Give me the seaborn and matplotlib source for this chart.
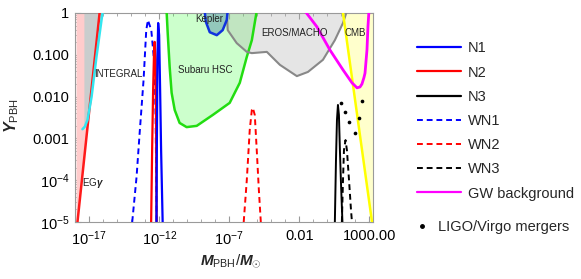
import numpy as np
import matplotlib
matplotlib.use("Agg")
import matplotlib.pyplot as plt
import seaborn as sns
from matplotlib.lines import Line2D
from matplotlib.ticker import FixedLocator, FixedFormatter, LogLocator, NullFormatter

# all values are log10(M/Msun) and log10(Y)
egam_m = [-17.84, -16.23]
egam_y = [-5.05, 0.05]
egam_fill_left = -17.89

integral_m = [-17.47, -17.30, -17.11, -16.82, -16.47, -16.02]
integral_y = [-2.78, -2.72, -2.56, -2.01, -1.05, 0.05]
integral_left = -17.33

subaru_m = [-11.47, -11.39, -11.25, -11.11, -10.89, -10.54, -10.04, -9.32, -8.18,
            -6.97, -6.25, -5.75, -5.39, -5.04]
subaru_y = [0.05, -0.48, -1.29, -1.91, -2.32, -2.63, -2.73, -2.70, -2.44,
            -2.15, -1.67, -1.05, -0.65, 0.05]

kepler_m = [-8.75, -8.68, -8.39, -7.89, -7.47, -7.18, -7.11]
kepler_y = [0.05, -0.20, -0.46, -0.53, -0.41, -0.17, 0.05]

eros_m = [-7.18, -7.11, -6.47, -5.75, -5.39, -4.32, -3.39, -2.18, -1.39, -0.32, 0.53, 1.11, 1.39]
eros_y = [0.05, -0.41, -0.72, -0.93, -0.96, -0.93, -1.24, -1.51, -1.41, -1.12, -0.65, -0.24, 0.05]

cmb_m = [1.09, 3.20]
cmb_y = [0.05, -5.05]

gw_m = [-1.61, -0.75, 0.18, 1.11, 1.75, 2.11, 2.32, 2.46, 2.60, 2.68, 2.82, 2.89, 2.96]
gw_y = [0.05, -0.33, -0.885, -1.36, -1.67, -1.79, -1.77, -1.70, -1.55, -1.44, -0.885, -0.33, 0.05]

n1_m = [-12.19, -12.16, -12.12, -12.07, -12.00, -11.93, -11.86, -11.75]
n1_y = [-5.0, -3.04, -1.12, -0.24, -0.53, -1.84, -3.28, -5.0]
n2_m = [-12.57, -12.50, -12.43, -12.36, -12.32, -12.25, -12.22, -12.18]
n2_y = [-5.0, -3.28, -1.84, -0.885, -0.69, -1.12, -2.56, -5.0]
n3_m = [0.53, 0.61, 0.68, 0.75, 0.82, 0.89, 0.96, 1.07]
n3_y = [-5.0, -3.52, -2.56, -2.20, -2.44, -3.28, -4.0, -5.0]

wn1_m = [-13.92, -13.61, -13.39, -13.11, -12.92, -12.80, -12.56, -12.32, -12.25, -12.18]
wn1_y = [-5.0, -3.92, -2.87, -1.60, -0.41, -0.17, -0.41, -1.29, -2.56, -5.0]
wn2_m = [-5.97, -5.75, -5.54, -5.39, -5.32, -5.18, -5.04, -4.89, -4.75]
wn2_y = [-5.0, -4.0, -2.80, -2.32, -2.27, -2.44, -3.28, -4.23, -5.0]
wn3_m = [1.03, 1.11, 1.18, 1.29, 1.39, 1.54, 1.68, 1.75]
wn3_y = [-5.0, -4.0, -3.28, -3.04, -3.28, -4.0, -4.71, -5.0]

ligo_m = [0.96, 1.25, 1.54, 1.96, 2.25, 2.46]
ligo_y = [-2.15, -2.37, -2.61, -2.87, -2.51, -2.11]

region_labels = ["INTEGRAL", "EG$\\gamma$", "Subaru HSC", "Kepler", "EROS/MACHO", "CMB"]
label_m = [-14.89, -16.75, -8.68, -8.46, -2.32, 1.96]
label_y = [-1.46, -4.07, -1.36, -0.14, -0.48, -0.48]

x_ticks = [-17, -12, -7, -2, 3]
x_ticklabels = ["$10^{-17}$", "$10^{-12}$", "$10^{-7}$", "0.01", "1000.00"]
y_ticks = [0, -1, -2, -3, -4, -5]
y_ticklabels = ["1", "0.100", "0.010", "0.001", "$10^{-4}$", "$10^{-5}$"]


def pw(v):
    return 10.0 ** np.asarray(v, dtype=float)


sns.set_style("ticks")
plt.rcParams['font.family'] = ['Liberation Sans', 'DejaVu Sans']
plt.rcParams['mathtext.fontset'] = 'custom'
plt.rcParams['mathtext.rm'] = 'Liberation Sans'
plt.rcParams['mathtext.it'] = 'Liberation Sans:italic:bold'
plt.rcParams['mathtext.bf'] = 'Liberation Sans:bold'

fig = plt.figure(figsize=(5.81, 2.79), dpi=100)
ax = fig.add_axes([75 / 581, 1 - 222 / 279, 298 / 581, 209 / 279])
ax.set_xscale('log')
ax.set_yscale('log')

# shaded constraints
ax.fill(pw([egam_fill_left] + egam_m[::-1] + [egam_fill_left]),
        pw([egam_y[1]] + egam_y[::-1] + [egam_y[0]]),
        color='#ffcccc', lw=0, zorder=1)
ax.fill(pw(integral_m + [integral_left, integral_left]),
        pw(integral_y + [integral_y[-1], integral_y[0]]),
        color='#c9cdcd', lw=0, zorder=2)
ax.fill(pw(cmb_m + [3.6, 3.6]), pw(cmb_y + [-5.05, 0.05]),
        color='#ffffcc', lw=0, zorder=1)
ax.fill(pw(subaru_m), pw(subaru_y), color='#00ff00', alpha=0.2, lw=0, zorder=2)
ax.fill(pw(eros_m), pw(eros_y), color='#aaaaaa', alpha=0.3, lw=0, zorder=2)
ax.fill(pw(kepler_m), pw(kepler_y), color='#4f86a8', alpha=0.45, lw=0, zorder=3)

def curve(m, y, color, ls='-', lw=1.6, z=4):
    sns.lineplot(x=pw(m), y=pw(y), sort=False, estimator=None, color=color,
                 linestyle=ls, lw=lw, ax=ax, zorder=z)

curve(egam_m, egam_y, '#ff1a1a', lw=1.8)
curve(integral_m, integral_y, '#33e6f0', lw=1.8)
curve(subaru_m, subaru_y, '#22dd11', lw=1.8)
curve(eros_m, eros_y, '#888888', lw=1.5)
curve(kepler_m, kepler_y, '#1133dd', lw=1.8)
curve(cmb_m, cmb_y, '#ffff00', lw=1.8)
curve(gw_m, gw_y, '#ff00ff', lw=2.0)

dash = (0, (3, 2))
curve(wn1_m, wn1_y, '#0000ff', ls=dash, lw=1.4)
curve(n2_m, n2_y, '#ff0000', lw=1.6)
curve(n1_m, n1_y, '#0000ff', lw=1.6)
curve(wn2_m, wn2_y, '#ff0000', ls=dash, lw=1.4)
curve(n3_m, n3_y, '#000000', lw=1.4)
curve(wn3_m, wn3_y, '#000000', ls=dash, lw=1.4)

sns.scatterplot(x=pw(ligo_m), y=pw(ligo_y), color='black', s=7, linewidth=0,
                ax=ax, zorder=5)

for txt, m, y in zip(region_labels, label_m, label_y):
    ax.text(10 ** m, 10 ** y, txt, fontsize=7, ha='center', va='center',
            color='#222222', zorder=6)

ax.set_xlim(10 ** -18, 10 ** 3.25)
ax.set_ylim(1e-5, 1)

ax.xaxis.set_major_locator(FixedLocator(pw(x_ticks)))
ax.xaxis.set_major_formatter(FixedFormatter(x_ticklabels))
ax.xaxis.set_minor_locator(FixedLocator(pw(np.arange(-18, 4))))
ax.xaxis.set_minor_formatter(NullFormatter())
ax.yaxis.set_major_locator(FixedLocator(pw(y_ticks)))
ax.yaxis.set_major_formatter(FixedFormatter(y_ticklabels))
ax.yaxis.set_minor_locator(LogLocator(base=10, subs=np.arange(2, 10), numticks=20))
ax.yaxis.set_minor_formatter(NullFormatter())

ax.tick_params(which='both', direction='in', top=True, right=True,
               color='#9a9a9a', labelsize=10.5, labelcolor='black')
ax.tick_params(which='major', length=4, width=0.8)
ax.tick_params(which='minor', length=2, width=0.6)
ax.tick_params(axis='x', pad=5)
ax.tick_params(axis='y', pad=4)
for sp in ax.spines.values():
    sp.set_color('#9a9a9a')
    sp.set_linewidth(0.8)

ax.set_xlabel(r'$M_{\mathrm{PBH}}/M_{\odot}$', fontsize=11)
ax.set_ylabel(r'$Y_{\mathrm{PBH}}$', fontsize=11.5)
ax.xaxis.set_label_coords(0.523, -0.145)
ax.yaxis.set_label_coords(-0.18, 0.51)

line_handles = [
    Line2D([], [], color='#0000ff', lw=1.6),
    Line2D([], [], color='#ff0000', lw=1.6),
    Line2D([], [], color='#000000', lw=1.6),
    Line2D([], [], color='#0000ff', lw=1.4, ls=(0, (3, 2))),
    Line2D([], [], color='#ff0000', lw=1.4, ls=(0, (3, 2))),
    Line2D([], [], color='#000000', lw=1.4, ls=(0, (3, 2))),
    Line2D([], [], color='#ff00ff', lw=1.6),
]
line_names = ["N1", "N2", "N3", "WN1", "WN2", "WN3", "GW background"]
fig.legend(line_handles, line_names, loc='upper left', bbox_to_anchor=(0.718, 0.852),
           frameon=False, fontsize=10.5, handlelength=3.0, handletextpad=0.5,
           labelspacing=0.7, borderpad=0, borderaxespad=0)
dot_handle = [Line2D([], [], color='black', marker='o', ms=2.5, lw=0)]
fig.legend(dot_handle, ["LIGO/Virgo mergers"], loc='upper left',
           bbox_to_anchor=(0.718, 0.212), frameon=False, fontsize=10.5,
           handlelength=0.7, handletextpad=0.7, borderpad=0, borderaxespad=0)

fig.savefig('out.png', dpi=100)
